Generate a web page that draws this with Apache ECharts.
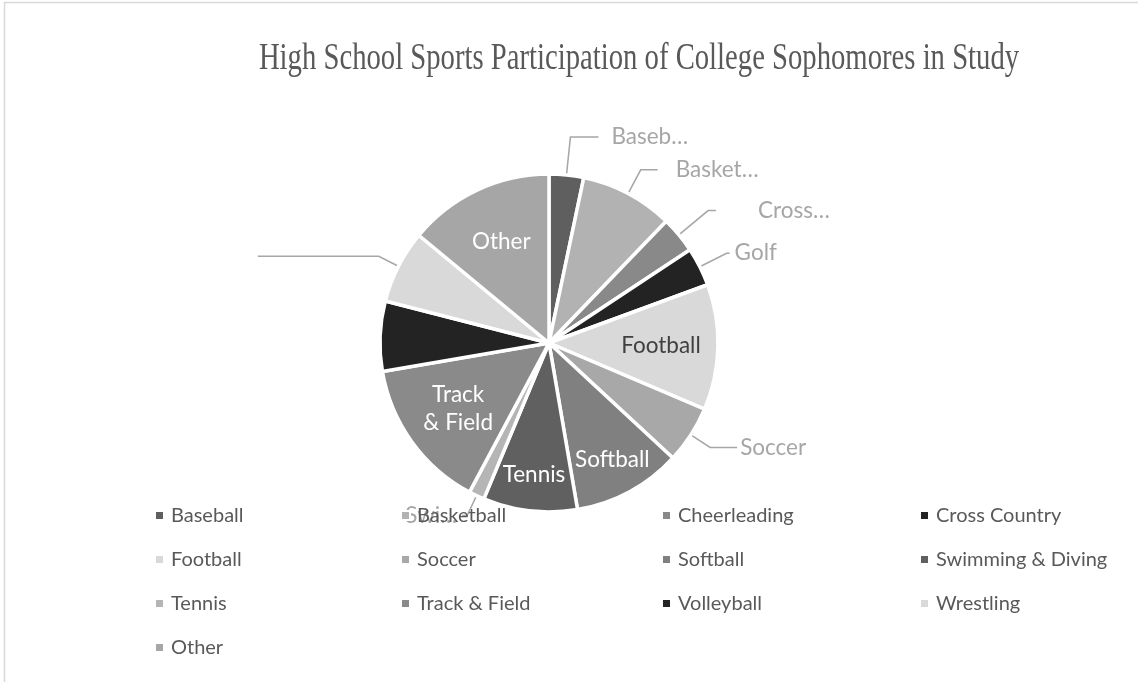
<!DOCTYPE html>
<html>
<head>
<meta charset="utf-8">
<script src="https://cdn.jsdelivr.net/npm/echarts@6/dist/echarts.min.js"></script>
<style>
  html, body { margin: 0; padding: 0; background: #ffffff; }
  #chart { width: 1138px; height: 682px; }
</style>
</head>
<body>
<div id="chart"></div>
<script>
// Share of students (%) by high school sport, clockwise from 12 o'clock
const categories = ['Baseball', 'Basketball', 'Cheerleading', 'Cross Country', 'Football', 'Soccer',
  'Softball', 'Swimming & Diving', 'Tennis', 'Track & Field', 'Volleyball', 'Wrestling', 'Other'];
const shares = [3.3, 8.9, 3.5, 3.7, 12.0, 5.5, 10.4, 9.0, 1.5, 14.5, 6.7, 7.0, 14.0];
// Data-label text shown on each slice (blank = no text)
const sliceLabels = ['Baseb…', 'Basket…', 'Cross…', 'Golf', 'Football', 'Soccer', 'Softball',
  'Tennis', 'Swi…', 'Track\n& Field', '', '', 'Other'];
const chartTitle = 'High School Sports Participation of College Sophomores in Study';

// Grey-scale fill per slice
const sliceColors = ['#5f5f5f', '#b2b2b2', '#898989', '#232323', '#d9d9d9', '#a8a8a8', '#808080',
  '#606060', '#b5b5b5', '#8a8a8a', '#232323', '#d9d9d9', '#a6a6a6'];

// Leader-line geometry for labels placed outside the pie
const outsideLeaders = {
  'Baseball':      { length: 38, length2: 28, gap: 13 },
  'Basketball':    { length: 27, length2: 17, gap: 18 },
  'Cheerleading':  { length: 38, length2: 8,  gap: 42 },
  'Cross Country': { length: 30, length2: 3,  gap: 5 },
  'Soccer':        { length: 23, length2: 27, gap: 3 },
  'Tennis':        { length: 22, length2: 5,  gap: 5 },
  'Wrestling':     { length: 22, length2: 121, gap: 0 }
};
// Labels drawn inside the slices, in two radial bands
const insideNear = ['Football', 'Track & Field', 'Other'];
const insideFar = ['Softball', 'Swimming & Diving'];
const darkLabelText = ['Football'];

const CENTER = [549, 343];
const R = 169;
const LABEL_FONT = 'Lato';
const LABEL_SIZE = 22.5;

const mainSeries = {
  type: 'pie',
  center: CENTER,
  radius: R,
  startAngle: 90,
  clockwise: true,
  avoidLabelOverlap: false,
  emphasis: { disabled: true },
  itemStyle: { borderColor: '#ffffff', borderWidth: 3.5 },
  label: { fontFamily: LABEL_FONT, fontSize: LABEL_SIZE, color: '#a6a6a6' },
  labelLine: { lineStyle: { color: '#a6a6a6', width: 1.5 }, smooth: false },
  data: categories.map((name, i) => {
    const lead = outsideLeaders[name];
    return {
      name: name,
      value: shares[i],
      itemStyle: { color: sliceColors[i] },
      label: lead
        ? { show: true, position: 'outside', formatter: sliceLabels[i] || '\u00a0', distanceToLabelLine: lead.gap }
        : { show: false },
      labelLine: lead ? { show: true, length: lead.length, length2: lead.length2 } : { show: false }
    };
  })
};

// Transparent ring used only to carry the in-slice labels at a chosen radius
function insideLabelRing(names, innerRadius) {
  return {
    type: 'pie',
    center: CENTER,
    radius: [innerRadius, R],
    startAngle: 90,
    clockwise: true,
    silent: true,
    avoidLabelOverlap: false,
    emphasis: { disabled: true },
    itemStyle: { color: 'rgba(0,0,0,0)', borderWidth: 0 },
    labelLine: { show: false },
    data: categories.map((name, i) => ({
      name: name,
      value: shares[i],
      label: names.includes(name)
        ? {
            show: true, position: 'inside', rotate: 0, formatter: sliceLabels[i],
            fontFamily: LABEL_FONT, fontSize: LABEL_SIZE, lineHeight: 28, align: 'center',
            color: darkLabelText.includes(name) ? '#404040' : '#ffffff'
          }
        : { show: false }
    }))
  };
}

// Legend laid out as a 4-column grid, filled row by row
const legendLeft = [154, 400, 661, 919];
const legends = legendLeft.map((left, c) => ({
  data: categories.filter((_, i) => i % 4 === c),
  orient: 'vertical',
  left: left,
  top: 504,
  padding: 0,
  itemGap: 21,
  itemWidth: 9,
  itemHeight: 9,
  icon: 'rect',
  selectedMode: false,
  textStyle: { fontFamily: LABEL_FONT, fontSize: 20, color: '#595959', lineHeight: 23, padding: [0, 0, 0, 2] }
}));

const chart = echarts.init(document.getElementById('chart'), null, { renderer: 'canvas' });
chart.setOption({
  backgroundColor: '#ffffff',
  animation: false,
  graphic: [
    {
      type: 'rect',
      shape: { x: 4.5, y: 2.5, width: 1400, height: 900 },
      style: { fill: 'none', stroke: '#d9d9d9', lineWidth: 1.5 },
      silent: true
    },
    {
      // chart title, set in a tall, narrow serif
      type: 'text',
      x: 639,
      y: 59,
      scaleY: 1.3,
      silent: true,
      style: {
        text: chartTitle,
        x: 0, y: 0,
        fontFamily: 'Liberation Serif',
        fontSize: 28.7,
        fill: '#595959',
        align: 'center', textAlign: 'center',
        verticalAlign: 'middle', textVerticalAlign: 'middle'
      }
    }
  ],
  legend: legends,
  series: [mainSeries, insideLabelRing(insideNear, 49), insideLabelRing(insideFar, 91)]
});
</script>
</body>
</html>
